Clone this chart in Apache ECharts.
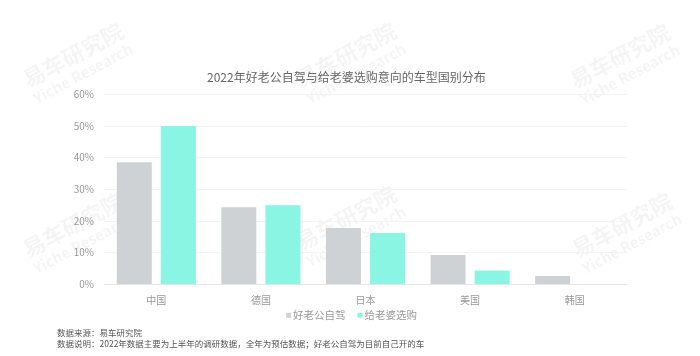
<!DOCTYPE html>
<html>
<head>
<meta charset="utf-8">
<script src="https://cdn.jsdelivr.net/npm/echarts@6/dist/echarts.min.js"></script>
<style>html,body{margin:0;padding:0;background:#fff}#c{width:700px;height:356px}</style>
</head>
<body>
<div id="c"></div>
<script>
var titleText = '2022年好老公自驾与给老婆选购意向的车型国别分布';
var categories = ['中国', '德国', '日本', '美国', '韩国'];
var seriesNames = ['好老公自驾', '给老婆选购'];
var selfDrive = [38.5, 24.3, 17.7, 9.2, 2.5];
var forWife = [50.0, 24.9, 16.1, 4.3, 0];
var yTicks = [0, 10, 20, 30, 40, 50, 60];
var note1 = '数据来源：易车研究院';
var note2 = '数据说明：2022年数据主要为上半年的调研数据，全年为预估数据；好老公自驾为目前自己开的车';
var wmCn = '易车研究院';
var wmEn = 'Yiche Research';
var wmSpots = [[73, 55], [346, 55], [620, 56], [73, 225], [346, 218], [622, 225]];

var FONT = '"Noto Sans CJK SC", "Noto Sans", sans-serif';
var chart = echarts.init(document.getElementById('c'), null, {renderer: 'canvas'});

var wm = [];
wmSpots.forEach(function (p) {
  wm.push({
    type: 'group', x: p[0], y: p[1], rotation: 0.49, silent: true, z: 100,
    children: [
      {type: 'text', style: {text: wmCn, x: 0, y: 0, align: 'center', verticalAlign: 'middle',
        font: 'bold 22px ' + FONT, fill: 'rgba(0,0,0,0.045)'}},
      {type: 'text', style: {text: wmEn, x: 0, y: 21, align: 'center', verticalAlign: 'middle',
        font: 'bold 15px ' + FONT, fill: 'rgba(0,0,0,0.045)'}}
    ]
  });
});

chart.setOption({
  backgroundColor: '#fff',
  animation: false,
  title: {
    text: titleText, left: 202, top: 66,
    textStyle: {fontSize: 12, fontWeight: 'normal', color: '#666', fontFamily: FONT}
  },
  legend: {
    data: seriesNames, left: 281, top: 305, icon: 'rect', itemWidth: 5, itemHeight: 5, itemGap: 12,
    textStyle: {fontSize: 10.5, color: '#999', fontFamily: FONT, padding: [0, 0, 0, -3]}
  },
  grid: {left: 104, right: 73, top: 94.4, bottom: 72, containLabel: false},
  xAxis: {
    type: 'category', data: categories,
    axisTick: {show: false},
    axisLine: {lineStyle: {color: '#e6e6e6'}},
    axisLabel: {color: '#999', fontSize: 10, margin: 11, fontFamily: FONT}
  },
  yAxis: {
    type: 'value', min: yTicks[0], max: yTicks[yTicks.length - 1], interval: yTicks[1] - yTicks[0],
    axisLine: {show: false}, axisTick: {show: false},
    axisLabel: {formatter: '{value}%', color: '#999', fontSize: 10, margin: 10, fontFamily: FONT},
    splitLine: {lineStyle: {color: '#f3f3f3'}}
  },
  series: [
    {name: seriesNames[0], type: 'bar', data: selfDrive, barWidth: 35, barGap: '26%',
      itemStyle: {color: '#cfd2d5'}},
    {name: seriesNames[1], type: 'bar', data: forWife, barWidth: 35, barGap: '26%',
      itemStyle: {color: '#89f5e2'}}
  ],
  graphic: wm.concat([
    {type: 'text', left: 57, top: 329, style: {text: note1, font: '8.5px ' + FONT, fill: '#555'}},
    {type: 'text', left: 57, top: 340, style: {text: note2, font: '8.5px ' + FONT, fill: '#555'}}
  ])
});
</script>
</body>
</html>
